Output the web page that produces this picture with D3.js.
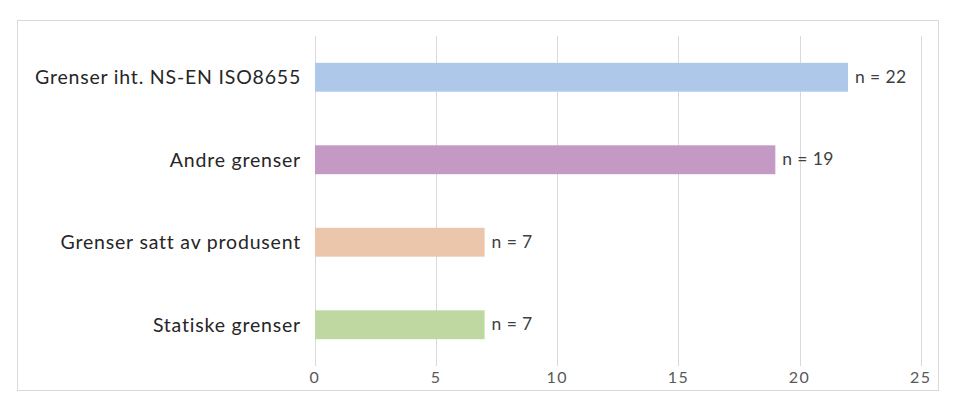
<!DOCTYPE html>
<html lang="no">
<head>
  <meta charset="UTF-8">
  <title>Grenser</title>
  <script src="https://d3js.org/d3.v7.min.js"></script>
  <style>
    body {
      margin: 0;
      background: #fff;
      font-family: Lato, "Open Sans", sans-serif;
    }
    .grid line { stroke: #d9d9d9; stroke-width: 1; }
    .tick-label { font-size: 16px; fill: #595959; letter-spacing: 1.5px; }
    .cat-label { font-size: 19.5px; fill: #262626; letter-spacing: 0.8px; }
    .val-label { font-size: 17.5px; fill: #404040; letter-spacing: 0.4px; }
  </style>
</head>
<body>
  <svg id="chart" width="960" height="404"></svg>

  <script>
    // Data
    const categories = ["Grenser iht. NS-EN ISO8655", "Andre grenser", "Grenser satt av produsent", "Statiske grenser"];
    const counts = [22, 19, 7, 7];
    const barColors = ["#aec8e9", "#c49ac4", "#ebc6ab", "#bfd7a1"];
    const tickValues = [0, 5, 10, 15, 20, 25];

    const svg = d3.select("#chart");

    // Outer frame
    svg.append("rect")
      .attr("x", 17.5).attr("y", 20.5)
      .attr("width", 921).attr("height", 370)
      .attr("fill", "none")
      .attr("stroke", "#d9d9d9");

    const plot = { left: 315, right: 920.7, top: 36, bottom: 366 };

    const x = d3.scaleLinear().domain([0, 25]).range([plot.left, plot.right]);
    const y = d3.scaleBand().domain(categories).range([plot.top, plot.bottom]).paddingInner(0.65).paddingOuter(0.325);

    // Vertical gridlines
    svg.append("g").attr("class", "grid")
      .selectAll("line")
      .data(tickValues)
      .join("line")
      .attr("x1", d => Math.round(x(d)) + 0.5)
      .attr("x2", d => Math.round(x(d)) + 0.5)
      .attr("y1", plot.top)
      .attr("y2", plot.bottom);

    // Tick labels
    svg.append("g")
      .selectAll("text")
      .data(tickValues)
      .join("text")
      .attr("class", "tick-label")
      .attr("x", d => x(d))
      .attr("y", 383)
      .attr("text-anchor", "middle")
      .text(d => d);

    // Bars
    svg.append("g")
      .selectAll("rect")
      .data(categories)
      .join("rect")
      .attr("x", x(0))
      .attr("y", d => y(d))
      .attr("width", (d, i) => x(counts[i]) - x(0))
      .attr("height", y.bandwidth())
      .attr("fill", (d, i) => barColors[i]);

    // Category labels
    svg.append("g")
      .selectAll("text")
      .data(categories)
      .join("text")
      .attr("class", "cat-label")
      .attr("x", 301)
      .attr("y", d => y(d) + y.bandwidth() / 2)
      .attr("dy", "0.35em")
      .attr("text-anchor", "end")
      .text(d => d);

    // Value labels
    svg.append("g")
      .selectAll("text")
      .data(categories)
      .join("text")
      .attr("class", "val-label")
      .attr("x", (d, i) => x(counts[i]) + 7)
      .attr("y", d => y(d) + y.bandwidth() / 2)
      .attr("dy", "0.32em")
      .text((d, i) => "n = " + counts[i]);
  </script>
</body>
</html>
